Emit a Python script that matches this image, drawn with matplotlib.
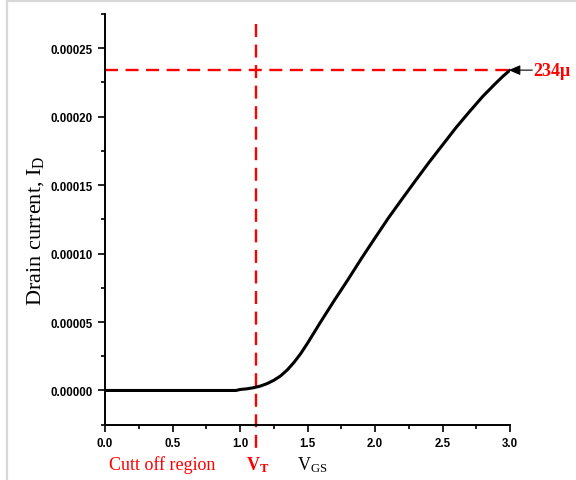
import matplotlib
matplotlib.use("Agg")
import matplotlib.pyplot as plt
from matplotlib.ticker import MultipleLocator, FormatStrFormatter
from matplotlib.lines import Line2D
import matplotlib.transforms as mtransforms

plt.rcParams['mathtext.fontset'] = 'custom'
plt.rcParams['mathtext.rm'] = 'Liberation Serif'
plt.rcParams['mathtext.it'] = 'Liberation Serif:italic'
plt.rcParams['mathtext.bf'] = 'Liberation Serif:bold'

# Transfer characteristic: gate-source voltage vs drain current
vgs = [0.0, 0.1, 0.2, 0.3, 0.4, 0.5, 0.6, 0.7, 0.8, 0.9, 0.97, 1.0,
       1.05, 1.1, 1.15, 1.2, 1.25, 1.3, 1.35, 1.4, 1.45, 1.5, 1.55, 1.6,
       1.7, 1.8, 1.9, 2.0, 2.1, 2.2, 2.3, 2.4, 2.5, 2.6, 2.7, 2.8,
       2.85, 2.9, 2.95, 3.0]
i_d = [0.0, 0.0, 0.0, 0.0, 0.0, 0.0, 0.0, 0.0, 0.0, 0.0, 0.0, 0.7e-6,
       1.2e-6, 2.0e-6, 3.2e-6, 5.0e-6, 7.4e-6, 1.06e-5, 1.5e-5, 2.05e-5, 2.7e-5, 3.45e-5, 4.25e-5, 5.05e-5,
       6.6e-5, 8.1e-5, 9.65e-5, 1.114e-4, 1.261e-4, 1.398e-4, 1.533e-4, 1.666e-4, 1.793e-4, 1.92e-4, 2.037e-4, 2.15e-4,
       2.2e-4, 2.25e-4, 2.297e-4, 2.34e-4]

v_threshold = 1.12
i_max = 234e-6
i_max_label = "234\u03bc"

x_ticks = [0.0, 0.5, 1.0, 1.5, 2.0, 2.5, 3.0]
y_ticks = [0.0, 0.00005, 0.00010, 0.00015, 0.00020, 0.00025]

W, H = 576, 481
fig = plt.figure(figsize=(W / 100, H / 100), dpi=100)
ax = fig.add_axes([105 / W, 1 - 425.7 / H, 405 / W, 410.7 / H])

# light frame around the figure
fig.add_artist(Line2D([7 / W, 7 / W], [0, 1 - 2 / H], transform=fig.transFigure,
                      color="#d8d8d8", lw=1.6))
fig.add_artist(Line2D([7 / W, 1], [1 - 2 / H, 1 - 2 / H], transform=fig.transFigure,
                      color="#d8d8d8", lw=1.6))

ax.plot(vgs, i_d, color="black", lw=2.2, solid_capstyle="round",
        solid_joinstyle="round", zorder=3)

# dashed guides: threshold voltage and peak current
ax.plot([0.0, 3.0], [i_max, i_max], color="red", lw=1.7,
        dashes=(5.5, 3.2), zorder=2)
blend = mtransforms.blended_transform_factory(ax.transData, ax.transAxes)
ax.plot([v_threshold, v_threshold], [0.976, -0.072], color="red", lw=1.7,
        dashes=(5.5, 3.2), transform=blend, clip_on=False, zorder=2)

ax.annotate("", xy=(2.99, i_max), xytext=(3.165, i_max),
            arrowprops=dict(arrowstyle="-|>,head_length=0.7,head_width=0.3",
                            color="black", lw=0.8, shrinkA=0, shrinkB=0),
            annotation_clip=False)
ax.text(3.17, i_max, i_max_label, ha="left", va="center", color="red",
        fontsize=13, fontweight="bold", family="Liberation Serif")

ax.set_xlim(0.0, 3.0)
ax.set_ylim(-0.000025, 0.000275)
ax.xaxis.set_major_locator(plt.FixedLocator(x_ticks))
ax.yaxis.set_major_locator(plt.FixedLocator(y_ticks))
ax.xaxis.set_minor_locator(MultipleLocator(0.25))
ax.yaxis.set_minor_locator(MultipleLocator(0.000025))
ax.xaxis.set_major_formatter(FormatStrFormatter("%.1f"))
ax.yaxis.set_major_formatter(FormatStrFormatter("%.5f"))

for side in ("top", "right"):
    ax.spines[side].set_visible(False)
for side in ("left", "bottom"):
    ax.spines[side].set_linewidth(1.4)

ax.tick_params(which="major", direction="out", length=5, width=1.2, pad=4)
ax.tick_params(which="minor", direction="out", length=3, width=1.2)
for lab in ax.get_xticklabels() + ax.get_yticklabels():
    lab.set_fontfamily("Liberation Sans")
    lab.set_fontweight("bold")
    lab.set_fontsize(8.3)

fig.text(36 / W, 1 - 231 / H, r"Drain current, I$_{\mathrm{D}}$", rotation=90,
         ha="center", va="center", fontsize=16, family="Liberation Serif")

base_y = 1 - 470 / H
fig.text(162 / W, base_y, "Cutt off region", ha="center", va="baseline",
         color="red", fontsize=13, family="Liberation Serif")
fig.text(246 / W, base_y, r"$\mathbf{V}_{\mathbf{T}}$", ha="left", va="baseline",
         color="red", fontsize=13)
fig.text(297 / W, base_y, r"V$_{\mathrm{GS}}$", ha="left", va="baseline",
         color="black", fontsize=13, family="Liberation Serif")

fig.savefig("out.png", dpi=100)
